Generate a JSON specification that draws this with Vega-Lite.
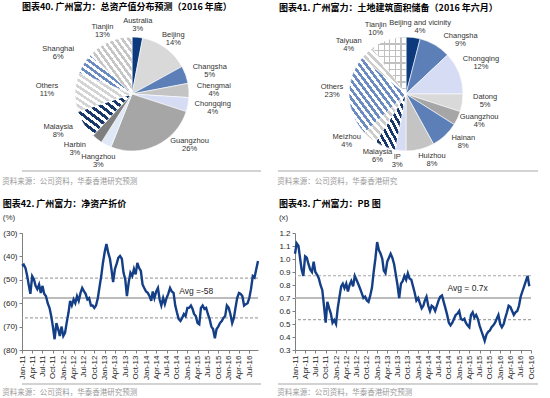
{
"$schema": "https://vega.github.io/schema/vega-lite/v6.json",
"padding": {"left": 2, "top": 3, "right": 0, "bottom": 0},
"background": "white",
"config": {
  "view": {"stroke": null},
  "font": "Liberation Sans",
  "text": {"font": "Liberation Sans", "fontSize": 7.5, "color": "#333333"},
  "axis": {"grid": false, "domainColor": "#7f7f7f", "tickColor": "#7f7f7f", "labelFont": "Liberation Sans", "labelFontSize": 8, "labelColor": "#262626", "tickSize": 3, "labelPadding": 2},
  "title": {"font": "Noto Sans CJK SC", "fontSize": 9, "fontWeight": "bold", "color": "#000000", "anchor": "start", "frame": "bounds", "offset": 5}
},
"datasets": {
  "pie1": [{"c":"Australia","p":0.03},{"c":"Beijing","p":0.14},{"c":"Changsha","p":0.05},{"c":"Chengmai","p":0.04},{"c":"Chongqing","p":0.04},{"c":"Guangzhou","p":0.26},{"c":"Hangzhou","p":0.03},{"c":"Harbin","p":0.03},{"c":"Malaysia","p":0.08},{"c":"Others","p":0.11},{"c":"Shanghai","p":0.06},{"c":"Tianjin","p":0.13}],
  "pie2": [{"c":"Beijing and vicinity","p":0.04},{"c":"Changsha","p":0.09},{"c":"Chongqing","p":0.12},{"c":"Datong","p":0.05},{"c":"Guangzhou","p":0.04},{"c":"Hainan","p":0.08},{"c":"Huizhou","p":0.08},{"c":"IP","p":0.03},{"c":"Malaysia","p":0.06},{"c":"Meizhou","p":0.04},{"c":"Others","p":0.23},{"c":"Taiyuan","p":0.04},{"c":"Tianjin","p":0.10}],
  "ts": [
{"d":"2011-01-01","disc":-44,"pb":1.04},{"d":"2011-01-16","disc":-43.5,"pb":1.12},{"d":"2011-02-01","disc":-45,"pb":1.10},{"d":"2011-02-16","disc":-48.4,"pb":1.0},{"d":"2011-03-01","disc":-52,"pb":0.92},{"d":"2011-03-16","disc":-56,"pb":0.87},{"d":"2011-04-01","disc":-48.4,"pb":1.02},{"d":"2011-04-16","disc":-49.7,"pb":1.01},{"d":"2011-05-01","disc":-52.6,"pb":0.96},{"d":"2011-05-16","disc":-54,"pb":0.92},{"d":"2011-06-01","disc":-52,"pb":0.9},{"d":"2011-06-16","disc":-55.6,"pb":0.98},{"d":"2011-07-01","disc":-52.6,"pb":0.9},{"d":"2011-07-16","disc":-56,"pb":0.88},{"d":"2011-08-01","disc":-57,"pb":0.85},{"d":"2011-08-16","disc":-60,"pb":0.8},{"d":"2011-09-01","disc":-62,"pb":0.76},{"d":"2011-09-16","disc":-65.5,"pb":0.64},{"d":"2011-10-01","disc":-70,"pb":0.51},{"d":"2011-10-16","disc":-75.4,"pb":0.67},{"d":"2011-11-01","disc":-68.5,"pb":0.62},{"d":"2011-11-16","disc":-71,"pb":0.58},{"d":"2011-12-01","disc":-74,"pb":0.51},{"d":"2011-12-16","disc":-70,"pb":0.53},
{"d":"2012-01-01","disc":-74,"pb":0.5},{"d":"2012-01-16","disc":-72.7,"pb":0.62},{"d":"2012-02-01","disc":-68,"pb":0.71},{"d":"2012-02-16","disc":-64,"pb":0.79},{"d":"2012-03-01","disc":-59,"pb":0.81},{"d":"2012-03-16","disc":-61,"pb":0.775},{"d":"2012-04-01","disc":-58.4,"pb":0.81},{"d":"2012-04-16","disc":-60,"pb":0.75},{"d":"2012-05-01","disc":-57,"pb":0.8},{"d":"2012-05-16","disc":-59,"pb":0.83},{"d":"2012-06-01","disc":-55.6,"pb":0.79},{"d":"2012-06-16","disc":-53.5,"pb":0.87},{"d":"2012-07-01","disc":-54.8,"pb":0.84},{"d":"2012-07-16","disc":-56,"pb":0.81},{"d":"2012-08-01","disc":-58.4,"pb":0.775},{"d":"2012-08-16","disc":-57.8,"pb":0.74},{"d":"2012-09-01","disc":-61,"pb":0.7},{"d":"2012-09-16","disc":-61,"pb":0.71},{"d":"2012-10-01","disc":-62,"pb":0.68},{"d":"2012-10-16","disc":-61,"pb":0.67},{"d":"2012-11-01","disc":-57.8,"pb":0.72},{"d":"2012-11-16","disc":-53,"pb":0.78},{"d":"2012-12-01","disc":-48.4,"pb":0.9},{"d":"2012-12-16","disc":-42.8,"pb":1.0},
{"d":"2013-01-01","disc":-38,"pb":1.13},{"d":"2013-01-16","disc":-34.7,"pb":1.07},{"d":"2013-02-01","disc":-38.5,"pb":1.04},{"d":"2013-02-16","disc":-41,"pb":1.0},{"d":"2013-03-01","disc":-45.4,"pb":0.91},{"d":"2013-03-16","disc":-51,"pb":0.89},{"d":"2013-04-01","disc":-45.4,"pb":0.98},{"d":"2013-04-16","disc":-43.2,"pb":1.01},{"d":"2013-05-01","disc":-40.6,"pb":1.04},{"d":"2013-05-16","disc":-39.8,"pb":1.01},{"d":"2013-06-01","disc":-41,"pb":0.96},{"d":"2013-06-16","disc":-47,"pb":0.88},{"d":"2013-07-01","disc":-49.7,"pb":0.8},{"d":"2013-07-16","disc":-57,"pb":0.7},{"d":"2013-08-01","disc":-51,"pb":0.81},{"d":"2013-08-16","disc":-47,"pb":0.83},{"d":"2013-09-01","disc":-48.4,"pb":0.87},{"d":"2013-09-16","disc":-45.4,"pb":0.84},{"d":"2013-10-01","disc":-47.7,"pb":0.89},{"d":"2013-10-16","disc":-42.8,"pb":0.85},{"d":"2013-11-01","disc":-45,"pb":0.84},{"d":"2013-11-16","disc":-46.2,"pb":0.79},{"d":"2013-12-01","disc":-52,"pb":0.74},{"d":"2013-12-16","disc":-53.5,"pb":0.68},
{"d":"2014-01-01","disc":-55,"pb":0.7},{"d":"2014-01-16","disc":-55.6,"pb":0.66},{"d":"2014-02-01","disc":-57,"pb":0.62},{"d":"2014-02-16","disc":-59,"pb":0.64},{"d":"2014-03-01","disc":-55,"pb":0.68},{"d":"2014-03-16","disc":-57.8,"pb":0.71},{"d":"2014-04-01","disc":-55,"pb":0.64},{"d":"2014-04-16","disc":-53.5,"pb":0.6},{"d":"2014-05-01","disc":-58.4,"pb":0.64},{"d":"2014-05-16","disc":-61,"pb":0.63},{"d":"2014-06-01","disc":-57.8,"pb":0.6},{"d":"2014-06-16","disc":-60.4,"pb":0.64},{"d":"2014-07-01","disc":-57.8,"pb":0.68},{"d":"2014-07-16","disc":-56,"pb":0.71},{"d":"2014-08-01","disc":-53.5,"pb":0.72},{"d":"2014-08-16","disc":-55,"pb":0.67},{"d":"2014-09-01","disc":-55.6,"pb":0.62},{"d":"2014-09-16","disc":-61,"pb":0.57},{"d":"2014-10-01","disc":-64,"pb":0.51},{"d":"2014-10-16","disc":-66.7,"pb":0.49},{"d":"2014-11-01","disc":-67.6,"pb":0.51},{"d":"2014-11-16","disc":-66.3,"pb":0.54},{"d":"2014-12-01","disc":-64.6,"pb":0.57},{"d":"2014-12-16","disc":-65.5,"pb":0.58},
{"d":"2015-01-01","disc":-62,"pb":0.6},{"d":"2015-01-16","disc":-62,"pb":0.54},{"d":"2015-02-01","disc":-61,"pb":0.53},{"d":"2015-02-16","disc":-62.5,"pb":0.54},{"d":"2015-03-01","disc":-64.6,"pb":0.51},{"d":"2015-03-16","disc":-65.5,"pb":0.49},{"d":"2015-04-01","disc":-68.5,"pb":0.475},{"d":"2015-04-16","disc":-69,"pb":0.57},{"d":"2015-05-01","disc":-62,"pb":0.59},{"d":"2015-05-16","disc":-61,"pb":0.55},{"d":"2015-06-01","disc":-62.5,"pb":0.57},{"d":"2015-06-16","disc":-62,"pb":0.54},{"d":"2015-07-01","disc":-64.6,"pb":0.49},{"d":"2015-07-16","disc":-66.7,"pb":0.45},{"d":"2015-08-01","disc":-70,"pb":0.41},{"d":"2015-08-16","disc":-71,"pb":0.37},{"d":"2015-09-01","disc":-75,"pb":0.42},{"d":"2015-09-16","disc":-71,"pb":0.44},{"d":"2015-10-01","disc":-70,"pb":0.45},{"d":"2015-10-16","disc":-68.5,"pb":0.475},{"d":"2015-11-01","disc":-67.6,"pb":0.49},{"d":"2015-11-16","disc":-66.3,"pb":0.51},{"d":"2015-12-01","disc":-65.5,"pb":0.54},{"d":"2015-12-16","disc":-61,"pb":0.57},
{"d":"2016-01-01","disc":-62,"pb":0.5},{"d":"2016-01-16","disc":-64.6,"pb":0.475},{"d":"2016-02-01","disc":-68.5,"pb":0.5},{"d":"2016-02-16","disc":-66.3,"pb":0.55},{"d":"2016-03-01","disc":-62,"pb":0.59},{"d":"2016-03-16","disc":-57.8,"pb":0.64},{"d":"2016-04-01","disc":-55.6,"pb":0.63},{"d":"2016-04-16","disc":-56,"pb":0.6},{"d":"2016-05-01","disc":-57,"pb":0.57},{"d":"2016-05-16","disc":-61,"pb":0.59},{"d":"2016-06-01","disc":-60.4,"pb":0.6},{"d":"2016-06-16","disc":-60,"pb":0.64},{"d":"2016-07-01","disc":-57.8,"pb":0.71},{"d":"2016-07-16","disc":-54,"pb":0.75},{"d":"2016-08-01","disc":-48.4,"pb":0.79},{"d":"2016-08-16","disc":-49,"pb":0.83},{"d":"2016-09-01","disc":-45.4,"pb":0.87},{"d":"2016-09-16","disc":-42,"pb":0.79}
  ]
},
"spacing": 14,
"vconcat": [
{"spacing": 0, "vconcat": [
 {"spacing": 37, "hconcat": [
  {"width": 220, "height": 152,
   "title": {"text": "图表40. 广州富力：总资产值分布预测（2016 年底）"},
   "data": {"name": "pie1"},
   "encoding": {"theta": {"field": "p", "type": "quantitative", "stack": true}, "order": {"field": "c", "type": "nominal"}},
   "layer": [
    {"mark": {"type": "arc", "outerRadius": 57, "stroke": "#ffffff", "strokeWidth": 0.6},
     "encoding": {"fill": {"field": "c", "type": "nominal", "legend": null,
       "scale": {"domain": ["Australia","Beijing","Changsha","Chengmai","Chongqing","Guangzhou","Hangzhou","Harbin","Malaysia","Others","Shanghai","Tianjin"],
                 "range": ["#0d3a7d","#d9d9d9","#5b7fb6","#c4c4c4","#d5dcf4","#a6a6a6","#dfe9f6","#7f7f7f","#18386b","#d4d4d4","#6b8cc0","#c6c6c6"]},
       "condition": [
        {"test": "datum.c === 'Tianjin'", "value": {"gradient": "linear", "x1": 0, "y1": 1, "x2": 1, "y2": 0, "stops": [
{"offset":0,"color":"#c6c6c6"},{"offset":0.0385,"color":"#c6c6c6"},{"offset":0.0385,"color":"#fff"},{"offset":0.0769,"color":"#fff"},
{"offset":0.0769,"color":"#c6c6c6"},{"offset":0.1154,"color":"#c6c6c6"},{"offset":0.1154,"color":"#fff"},{"offset":0.1538,"color":"#fff"},
{"offset":0.1538,"color":"#c6c6c6"},{"offset":0.1923,"color":"#c6c6c6"},{"offset":0.1923,"color":"#fff"},{"offset":0.2308,"color":"#fff"},
{"offset":0.2308,"color":"#c6c6c6"},{"offset":0.2692,"color":"#c6c6c6"},{"offset":0.2692,"color":"#fff"},{"offset":0.3077,"color":"#fff"},
{"offset":0.3077,"color":"#c6c6c6"},{"offset":0.3462,"color":"#c6c6c6"},{"offset":0.3462,"color":"#fff"},{"offset":0.3846,"color":"#fff"},
{"offset":0.3846,"color":"#c6c6c6"},{"offset":0.4231,"color":"#c6c6c6"},{"offset":0.4231,"color":"#fff"},{"offset":0.4615,"color":"#fff"},
{"offset":0.4615,"color":"#c6c6c6"},{"offset":0.5,"color":"#c6c6c6"},{"offset":0.5,"color":"#fff"},{"offset":0.5385,"color":"#fff"},
{"offset":0.5385,"color":"#c6c6c6"},{"offset":0.5769,"color":"#c6c6c6"},{"offset":0.5769,"color":"#fff"},{"offset":0.6154,"color":"#fff"},
{"offset":0.6154,"color":"#c6c6c6"},{"offset":0.6538,"color":"#c6c6c6"},{"offset":0.6538,"color":"#fff"},{"offset":0.6923,"color":"#fff"},
{"offset":0.6923,"color":"#c6c6c6"},{"offset":0.7308,"color":"#c6c6c6"},{"offset":0.7308,"color":"#fff"},{"offset":0.7692,"color":"#fff"},
{"offset":0.7692,"color":"#c6c6c6"},{"offset":0.8077,"color":"#c6c6c6"},{"offset":0.8077,"color":"#fff"},{"offset":0.8462,"color":"#fff"},
{"offset":0.8462,"color":"#c6c6c6"},{"offset":0.8846,"color":"#c6c6c6"},{"offset":0.8846,"color":"#fff"},{"offset":0.9231,"color":"#fff"},
{"offset":0.9231,"color":"#c6c6c6"},{"offset":0.9615,"color":"#c6c6c6"},{"offset":0.9615,"color":"#fff"},{"offset":1,"color":"#fff"}]}},
        {"test": "datum.c === 'Shanghai'", "value": {"gradient": "linear", "x1": 0, "y1": 1, "x2": 1, "y2": 0, "stops": [
{"offset":0,"color":"#6b8cc0"},{"offset":0.0417,"color":"#6b8cc0"},{"offset":0.0417,"color":"#fff"},{"offset":0.0833,"color":"#fff"},
{"offset":0.0833,"color":"#6b8cc0"},{"offset":0.125,"color":"#6b8cc0"},{"offset":0.125,"color":"#fff"},{"offset":0.1667,"color":"#fff"},
{"offset":0.1667,"color":"#6b8cc0"},{"offset":0.2083,"color":"#6b8cc0"},{"offset":0.2083,"color":"#fff"},{"offset":0.25,"color":"#fff"},
{"offset":0.25,"color":"#6b8cc0"},{"offset":0.2917,"color":"#6b8cc0"},{"offset":0.2917,"color":"#fff"},{"offset":0.3333,"color":"#fff"},
{"offset":0.3333,"color":"#6b8cc0"},{"offset":0.375,"color":"#6b8cc0"},{"offset":0.375,"color":"#fff"},{"offset":0.4167,"color":"#fff"},
{"offset":0.4167,"color":"#6b8cc0"},{"offset":0.4583,"color":"#6b8cc0"},{"offset":0.4583,"color":"#fff"},{"offset":0.5,"color":"#fff"},
{"offset":0.5,"color":"#6b8cc0"},{"offset":0.5417,"color":"#6b8cc0"},{"offset":0.5417,"color":"#fff"},{"offset":0.5833,"color":"#fff"},
{"offset":0.5833,"color":"#6b8cc0"},{"offset":0.625,"color":"#6b8cc0"},{"offset":0.625,"color":"#fff"},{"offset":0.6667,"color":"#fff"},
{"offset":0.6667,"color":"#6b8cc0"},{"offset":0.7083,"color":"#6b8cc0"},{"offset":0.7083,"color":"#fff"},{"offset":0.75,"color":"#fff"},
{"offset":0.75,"color":"#6b8cc0"},{"offset":0.7917,"color":"#6b8cc0"},{"offset":0.7917,"color":"#fff"},{"offset":0.8333,"color":"#fff"},
{"offset":0.8333,"color":"#6b8cc0"},{"offset":0.875,"color":"#6b8cc0"},{"offset":0.875,"color":"#fff"},{"offset":0.9167,"color":"#fff"},
{"offset":0.9167,"color":"#6b8cc0"},{"offset":0.9583,"color":"#6b8cc0"},{"offset":0.9583,"color":"#fff"},{"offset":1,"color":"#fff"}]}},
        {"test": "datum.c === 'Others'", "value": {"gradient": "linear", "x1": 0, "y1": 1, "x2": 1, "y2": 0, "stops": [
{"offset":0,"color":"#d4d4d4"},{"offset":0.0417,"color":"#d4d4d4"},{"offset":0.0417,"color":"#fff"},{"offset":0.0833,"color":"#fff"},
{"offset":0.0833,"color":"#d4d4d4"},{"offset":0.125,"color":"#d4d4d4"},{"offset":0.125,"color":"#fff"},{"offset":0.1667,"color":"#fff"},
{"offset":0.1667,"color":"#d4d4d4"},{"offset":0.2083,"color":"#d4d4d4"},{"offset":0.2083,"color":"#fff"},{"offset":0.25,"color":"#fff"},
{"offset":0.25,"color":"#d4d4d4"},{"offset":0.2917,"color":"#d4d4d4"},{"offset":0.2917,"color":"#fff"},{"offset":0.3333,"color":"#fff"},
{"offset":0.3333,"color":"#d4d4d4"},{"offset":0.375,"color":"#d4d4d4"},{"offset":0.375,"color":"#fff"},{"offset":0.4167,"color":"#fff"},
{"offset":0.4167,"color":"#d4d4d4"},{"offset":0.4583,"color":"#d4d4d4"},{"offset":0.4583,"color":"#fff"},{"offset":0.5,"color":"#fff"},
{"offset":0.5,"color":"#d4d4d4"},{"offset":0.5417,"color":"#d4d4d4"},{"offset":0.5417,"color":"#fff"},{"offset":0.5833,"color":"#fff"},
{"offset":0.5833,"color":"#d4d4d4"},{"offset":0.625,"color":"#d4d4d4"},{"offset":0.625,"color":"#fff"},{"offset":0.6667,"color":"#fff"},
{"offset":0.6667,"color":"#d4d4d4"},{"offset":0.7083,"color":"#d4d4d4"},{"offset":0.7083,"color":"#fff"},{"offset":0.75,"color":"#fff"},
{"offset":0.75,"color":"#d4d4d4"},{"offset":0.7917,"color":"#d4d4d4"},{"offset":0.7917,"color":"#fff"},{"offset":0.8333,"color":"#fff"},
{"offset":0.8333,"color":"#d4d4d4"},{"offset":0.875,"color":"#d4d4d4"},{"offset":0.875,"color":"#fff"},{"offset":0.9167,"color":"#fff"},
{"offset":0.9167,"color":"#d4d4d4"},{"offset":0.9583,"color":"#d4d4d4"},{"offset":0.9583,"color":"#fff"},{"offset":1,"color":"#fff"}]}},
        {"test": "datum.c === 'Malaysia'", "value": {"gradient": "linear", "x1": 0, "y1": 1, "x2": 1, "y2": 0, "stops": [
{"offset":0,"color":"#18386b"},{"offset":0.0455,"color":"#18386b"},{"offset":0.0455,"color":"#fff"},{"offset":0.0909,"color":"#fff"},
{"offset":0.0909,"color":"#18386b"},{"offset":0.1364,"color":"#18386b"},{"offset":0.1364,"color":"#fff"},{"offset":0.1818,"color":"#fff"},
{"offset":0.1818,"color":"#18386b"},{"offset":0.2273,"color":"#18386b"},{"offset":0.2273,"color":"#fff"},{"offset":0.2727,"color":"#fff"},
{"offset":0.2727,"color":"#18386b"},{"offset":0.3182,"color":"#18386b"},{"offset":0.3182,"color":"#fff"},{"offset":0.3636,"color":"#fff"},
{"offset":0.3636,"color":"#18386b"},{"offset":0.4091,"color":"#18386b"},{"offset":0.4091,"color":"#fff"},{"offset":0.4545,"color":"#fff"},
{"offset":0.4545,"color":"#18386b"},{"offset":0.5,"color":"#18386b"},{"offset":0.5,"color":"#fff"},{"offset":0.5455,"color":"#fff"},
{"offset":0.5455,"color":"#18386b"},{"offset":0.5909,"color":"#18386b"},{"offset":0.5909,"color":"#fff"},{"offset":0.6364,"color":"#fff"},
{"offset":0.6364,"color":"#18386b"},{"offset":0.6818,"color":"#18386b"},{"offset":0.6818,"color":"#fff"},{"offset":0.7273,"color":"#fff"},
{"offset":0.7273,"color":"#18386b"},{"offset":0.7727,"color":"#18386b"},{"offset":0.7727,"color":"#fff"},{"offset":0.8182,"color":"#fff"},
{"offset":0.8182,"color":"#18386b"},{"offset":0.8636,"color":"#18386b"},{"offset":0.8636,"color":"#fff"},{"offset":0.9091,"color":"#fff"},
{"offset":0.9091,"color":"#18386b"},{"offset":0.9545,"color":"#18386b"},{"offset":0.9545,"color":"#fff"},{"offset":1,"color":"#fff"}]}}
       ]}}},
    {"mark": {"type": "text", "radius": 72, "baseline": "bottom", "dx": -1, "dy": 3},
     "encoding": {"text": {"condition": {"test": "indexof(['Australia','Beijing','Hangzhou','Tianjin'], datum.c) >= 0", "field": "c", "type": "nominal"}, "value": ""}, "size": {"condition": {"test": "indexof(['Australia','Beijing','Hangzhou','Tianjin'], datum.c) >= 0", "value": 7.5}, "value": 0}}},
    {"mark": {"type": "text", "radius": 72, "baseline": "top", "dx": -1, "dy": 3},
     "encoding": {"text": {"condition": {"test": "indexof(['Australia','Beijing','Hangzhou','Tianjin'], datum.c) >= 0", "field": "p", "type": "quantitative", "format": ".0%"}, "value": ""}, "size": {"condition": {"test": "indexof(['Australia','Beijing','Hangzhou','Tianjin'], datum.c) >= 0", "value": 7.5}, "value": 0}}},
    {"mark": {"type": "text", "radius": 72, "baseline": "bottom", "dx": 10, "dy": 1},
     "encoding": {"text": {"condition": {"test": "indexof(['Changsha','Chengmai','Chongqing'], datum.c) >= 0", "field": "c", "type": "nominal"}, "value": ""}, "size": {"condition": {"test": "indexof(['Changsha','Chengmai','Chongqing'], datum.c) >= 0", "value": 7.5}, "value": 0}}},
    {"mark": {"type": "text", "radius": 72, "baseline": "top", "dx": 10, "dy": 1},
     "encoding": {"text": {"condition": {"test": "indexof(['Changsha','Chengmai','Chongqing'], datum.c) >= 0", "field": "p", "type": "quantitative", "format": ".0%"}, "value": ""}, "size": {"condition": {"test": "indexof(['Changsha','Chengmai','Chongqing'], datum.c) >= 0", "value": 7.5}, "value": 0}}},
    {"mark": {"type": "text", "radius": 72, "baseline": "bottom", "dx": -13, "dy": -2},
     "encoding": {"text": {"condition": {"test": "indexof(['Harbin','Malaysia','Others','Shanghai'], datum.c) >= 0", "field": "c", "type": "nominal"}, "value": ""}, "size": {"condition": {"test": "indexof(['Harbin','Malaysia','Others','Shanghai'], datum.c) >= 0", "value": 7.5}, "value": 0}}},
    {"mark": {"type": "text", "radius": 72, "baseline": "top", "dx": -13, "dy": -2},
     "encoding": {"text": {"condition": {"test": "indexof(['Harbin','Malaysia','Others','Shanghai'], datum.c) >= 0", "field": "p", "type": "quantitative", "format": ".0%"}, "value": ""}, "size": {"condition": {"test": "indexof(['Harbin','Malaysia','Others','Shanghai'], datum.c) >= 0", "value": 7.5}, "value": 0}}},
    {"mark": {"type": "text", "radius": 60, "baseline": "bottom", "dx": 32, "dy": -3},
     "encoding": {"text": {"condition": {"test": "datum.c === 'Guangzhou'", "field": "c", "type": "nominal"}, "value": ""}, "size": {"condition": {"test": "datum.c === 'Guangzhou'", "value": 7.5}, "value": 0}}},
    {"mark": {"type": "text", "radius": 60, "baseline": "top", "dx": 32, "dy": -3},
     "encoding": {"text": {"condition": {"test": "datum.c === 'Guangzhou'", "field": "p", "type": "quantitative", "format": ".0%"}, "value": ""}, "size": {"condition": {"test": "datum.c === 'Guangzhou'", "value": 7.5}, "value": 0}}}
   ]},
  {"width": 254, "height": 152,
   "title": {"text": "图表41. 广州富力：土地建筑面积储备（2016 年六月）"},
   "data": {"name": "pie2"},
   "encoding": {"theta": {"field": "p", "type": "quantitative", "stack": true}, "order": {"field": "c", "type": "nominal"}},
   "layer": [
    {"mark": {"type": "arc", "outerRadius": 57, "stroke": "#ffffff", "strokeWidth": 0.6},
     "encoding": {"fill": {"field": "c", "type": "nominal", "legend": null,
       "scale": {"domain": ["Beijing and vicinity","Changsha","Chongqing","Datong","Guangzhou","Hainan","Huizhou","IP","Malaysia","Meizhou","Others","Taiyuan","Tianjin"],
                 "range": ["#0d3a7d","#d9d9d9","#5b7fb6","#c4c4c4","#d5dcf4","#a6a6a6","#dfe9f6","#7f7f7f","#18386b","#cccccc","#6b8cc0","#cccccc","#ffffff"]},
       "condition": [
        {"test": "datum.c === 'Tianjin'", "value": {"gradient": "linear", "x1": 0, "y1": 0, "x2": 0, "y2": 1, "stops": [
{"offset":0,"color":"#c0c0c0"},{"offset":0.0222,"color":"#c0c0c0"},{"offset":0.0222,"color":"#fff"},{"offset":0.1111,"color":"#fff"},
{"offset":0.1111,"color":"#c0c0c0"},{"offset":0.1333,"color":"#c0c0c0"},{"offset":0.1333,"color":"#fff"},{"offset":0.2222,"color":"#fff"},
{"offset":0.2222,"color":"#c0c0c0"},{"offset":0.2444,"color":"#c0c0c0"},{"offset":0.2444,"color":"#fff"},{"offset":0.3333,"color":"#fff"},
{"offset":0.3333,"color":"#c0c0c0"},{"offset":0.3556,"color":"#c0c0c0"},{"offset":0.3556,"color":"#fff"},{"offset":0.4444,"color":"#fff"},
{"offset":0.4444,"color":"#c0c0c0"},{"offset":0.4667,"color":"#c0c0c0"},{"offset":0.4667,"color":"#fff"},{"offset":0.5556,"color":"#fff"},
{"offset":0.5556,"color":"#c0c0c0"},{"offset":0.5778,"color":"#c0c0c0"},{"offset":0.5778,"color":"#fff"},{"offset":0.6667,"color":"#fff"},
{"offset":0.6667,"color":"#c0c0c0"},{"offset":0.6889,"color":"#c0c0c0"},{"offset":0.6889,"color":"#fff"},{"offset":0.7778,"color":"#fff"},
{"offset":0.7778,"color":"#c0c0c0"},{"offset":0.8,"color":"#c0c0c0"},{"offset":0.8,"color":"#fff"},{"offset":0.8889,"color":"#fff"},
{"offset":0.8889,"color":"#c0c0c0"},{"offset":0.9111,"color":"#c0c0c0"},{"offset":0.9111,"color":"#fff"},{"offset":1,"color":"#fff"}]}},
        {"test": "datum.c === 'Taiyuan' || datum.c === 'Meizhou'", "value": {"gradient": "linear", "x1": 0, "y1": 1, "x2": 1, "y2": 0, "stops": [
{"offset":0,"color":"#cccccc"},{"offset":0.0417,"color":"#cccccc"},{"offset":0.0417,"color":"#fff"},{"offset":0.0833,"color":"#fff"},
{"offset":0.0833,"color":"#cccccc"},{"offset":0.125,"color":"#cccccc"},{"offset":0.125,"color":"#fff"},{"offset":0.1667,"color":"#fff"},
{"offset":0.1667,"color":"#cccccc"},{"offset":0.2083,"color":"#cccccc"},{"offset":0.2083,"color":"#fff"},{"offset":0.25,"color":"#fff"},
{"offset":0.25,"color":"#cccccc"},{"offset":0.2917,"color":"#cccccc"},{"offset":0.2917,"color":"#fff"},{"offset":0.3333,"color":"#fff"},
{"offset":0.3333,"color":"#cccccc"},{"offset":0.375,"color":"#cccccc"},{"offset":0.375,"color":"#fff"},{"offset":0.4167,"color":"#fff"},
{"offset":0.4167,"color":"#cccccc"},{"offset":0.4583,"color":"#cccccc"},{"offset":0.4583,"color":"#fff"},{"offset":0.5,"color":"#fff"},
{"offset":0.5,"color":"#cccccc"},{"offset":0.5417,"color":"#cccccc"},{"offset":0.5417,"color":"#fff"},{"offset":0.5833,"color":"#fff"},
{"offset":0.5833,"color":"#cccccc"},{"offset":0.625,"color":"#cccccc"},{"offset":0.625,"color":"#fff"},{"offset":0.6667,"color":"#fff"},
{"offset":0.6667,"color":"#cccccc"},{"offset":0.7083,"color":"#cccccc"},{"offset":0.7083,"color":"#fff"},{"offset":0.75,"color":"#fff"},
{"offset":0.75,"color":"#cccccc"},{"offset":0.7917,"color":"#cccccc"},{"offset":0.7917,"color":"#fff"},{"offset":0.8333,"color":"#fff"},
{"offset":0.8333,"color":"#cccccc"},{"offset":0.875,"color":"#cccccc"},{"offset":0.875,"color":"#fff"},{"offset":0.9167,"color":"#fff"},
{"offset":0.9167,"color":"#cccccc"},{"offset":0.9583,"color":"#cccccc"},{"offset":0.9583,"color":"#fff"},{"offset":1,"color":"#fff"}]}},
        {"test": "datum.c === 'Others'", "value": {"gradient": "linear", "x1": 0, "y1": 1, "x2": 1, "y2": 0, "stops": [
{"offset":0,"color":"#6b8cc0"},{"offset":0.0294,"color":"#6b8cc0"},{"offset":0.0294,"color":"#fff"},{"offset":0.0588,"color":"#fff"},
{"offset":0.0588,"color":"#6b8cc0"},{"offset":0.0882,"color":"#6b8cc0"},{"offset":0.0882,"color":"#fff"},{"offset":0.1176,"color":"#fff"},
{"offset":0.1176,"color":"#6b8cc0"},{"offset":0.1471,"color":"#6b8cc0"},{"offset":0.1471,"color":"#fff"},{"offset":0.1765,"color":"#fff"},
{"offset":0.1765,"color":"#6b8cc0"},{"offset":0.2059,"color":"#6b8cc0"},{"offset":0.2059,"color":"#fff"},{"offset":0.2353,"color":"#fff"},
{"offset":0.2353,"color":"#6b8cc0"},{"offset":0.2647,"color":"#6b8cc0"},{"offset":0.2647,"color":"#fff"},{"offset":0.2941,"color":"#fff"},
{"offset":0.2941,"color":"#6b8cc0"},{"offset":0.3235,"color":"#6b8cc0"},{"offset":0.3235,"color":"#fff"},{"offset":0.3529,"color":"#fff"},
{"offset":0.3529,"color":"#6b8cc0"},{"offset":0.3824,"color":"#6b8cc0"},{"offset":0.3824,"color":"#fff"},{"offset":0.4118,"color":"#fff"},
{"offset":0.4118,"color":"#6b8cc0"},{"offset":0.4412,"color":"#6b8cc0"},{"offset":0.4412,"color":"#fff"},{"offset":0.4706,"color":"#fff"},
{"offset":0.4706,"color":"#6b8cc0"},{"offset":0.5,"color":"#6b8cc0"},{"offset":0.5,"color":"#fff"},{"offset":0.5294,"color":"#fff"},
{"offset":0.5294,"color":"#6b8cc0"},{"offset":0.5588,"color":"#6b8cc0"},{"offset":0.5588,"color":"#fff"},{"offset":0.5882,"color":"#fff"},
{"offset":0.5882,"color":"#6b8cc0"},{"offset":0.6176,"color":"#6b8cc0"},{"offset":0.6176,"color":"#fff"},{"offset":0.6471,"color":"#fff"},
{"offset":0.6471,"color":"#6b8cc0"},{"offset":0.6765,"color":"#6b8cc0"},{"offset":0.6765,"color":"#fff"},{"offset":0.7059,"color":"#fff"},
{"offset":0.7059,"color":"#6b8cc0"},{"offset":0.7353,"color":"#6b8cc0"},{"offset":0.7353,"color":"#fff"},{"offset":0.7647,"color":"#fff"},
{"offset":0.7647,"color":"#6b8cc0"},{"offset":0.7941,"color":"#6b8cc0"},{"offset":0.7941,"color":"#fff"},{"offset":0.8235,"color":"#fff"},
{"offset":0.8235,"color":"#6b8cc0"},{"offset":0.8529,"color":"#6b8cc0"},{"offset":0.8529,"color":"#fff"},{"offset":0.8824,"color":"#fff"},
{"offset":0.8824,"color":"#6b8cc0"},{"offset":0.9118,"color":"#6b8cc0"},{"offset":0.9118,"color":"#fff"},{"offset":0.9412,"color":"#fff"},
{"offset":0.9412,"color":"#6b8cc0"},{"offset":0.9706,"color":"#6b8cc0"},{"offset":0.9706,"color":"#fff"},{"offset":1,"color":"#fff"}]}},
        {"test": "datum.c === 'Malaysia'", "value": {"gradient": "linear", "x1": 0, "y1": 1, "x2": 1, "y2": 0, "stops": [
{"offset":0,"color":"#18386b"},{"offset":0.05,"color":"#18386b"},{"offset":0.05,"color":"#fff"},{"offset":0.1,"color":"#fff"},
{"offset":0.1,"color":"#18386b"},{"offset":0.15,"color":"#18386b"},{"offset":0.15,"color":"#fff"},{"offset":0.2,"color":"#fff"},
{"offset":0.2,"color":"#18386b"},{"offset":0.25,"color":"#18386b"},{"offset":0.25,"color":"#fff"},{"offset":0.3,"color":"#fff"},
{"offset":0.3,"color":"#18386b"},{"offset":0.35,"color":"#18386b"},{"offset":0.35,"color":"#fff"},{"offset":0.4,"color":"#fff"},
{"offset":0.4,"color":"#18386b"},{"offset":0.45,"color":"#18386b"},{"offset":0.45,"color":"#fff"},{"offset":0.5,"color":"#fff"},
{"offset":0.5,"color":"#18386b"},{"offset":0.55,"color":"#18386b"},{"offset":0.55,"color":"#fff"},{"offset":0.6,"color":"#fff"},
{"offset":0.6,"color":"#18386b"},{"offset":0.65,"color":"#18386b"},{"offset":0.65,"color":"#fff"},{"offset":0.7,"color":"#fff"},
{"offset":0.7,"color":"#18386b"},{"offset":0.75,"color":"#18386b"},{"offset":0.75,"color":"#fff"},{"offset":0.8,"color":"#fff"},
{"offset":0.8,"color":"#18386b"},{"offset":0.85,"color":"#18386b"},{"offset":0.85,"color":"#fff"},{"offset":0.9,"color":"#fff"},
{"offset":0.9,"color":"#18386b"},{"offset":0.95,"color":"#18386b"},{"offset":0.95,"color":"#fff"},{"offset":1,"color":"#fff"}]}}
       ]}}},
    {"mark": {"type": "arc", "outerRadius": 57},
     "encoding": {"fill": {"condition": {"test": "datum.c === 'Tianjin'", "value": {"gradient": "linear", "x1": 0, "y1": 0, "x2": 1, "y2": 0, "stops": [
{"offset":0,"color":"#c0c0c0"},{"offset":0.0333,"color":"#c0c0c0"},{"offset":0.0333,"color":"rgba(192,192,192,0)"},{"offset":0.1667,"color":"rgba(192,192,192,0)"},
{"offset":0.1667,"color":"#c0c0c0"},{"offset":0.2,"color":"#c0c0c0"},{"offset":0.2,"color":"rgba(192,192,192,0)"},{"offset":0.3333,"color":"rgba(192,192,192,0)"},
{"offset":0.3333,"color":"#c0c0c0"},{"offset":0.3667,"color":"#c0c0c0"},{"offset":0.3667,"color":"rgba(192,192,192,0)"},{"offset":0.5,"color":"rgba(192,192,192,0)"},
{"offset":0.5,"color":"#c0c0c0"},{"offset":0.5333,"color":"#c0c0c0"},{"offset":0.5333,"color":"rgba(192,192,192,0)"},{"offset":0.6667,"color":"rgba(192,192,192,0)"},
{"offset":0.6667,"color":"#c0c0c0"},{"offset":0.7,"color":"#c0c0c0"},{"offset":0.7,"color":"rgba(192,192,192,0)"},{"offset":0.8333,"color":"rgba(192,192,192,0)"},
{"offset":0.8333,"color":"#c0c0c0"},{"offset":0.8667,"color":"#c0c0c0"},{"offset":0.8667,"color":"rgba(192,192,192,0)"},{"offset":1,"color":"rgba(192,192,192,0)"}]}}, "value": null}}},
    {"mark": {"type": "text", "radius": 72, "baseline": "bottom", "dx": 8, "dy": -4},
     "encoding": {"text": {"condition": {"test": "indexof(['Chongqing','Datong','Guangzhou','Hainan','Huizhou'], datum.c) >= 0", "field": "c", "type": "nominal"}, "value": ""}, "size": {"condition": {"test": "indexof(['Chongqing','Datong','Guangzhou','Hainan','Huizhou'], datum.c) >= 0", "value": 7.5}, "value": 0}}},
    {"mark": {"type": "text", "radius": 72, "baseline": "top", "dx": 8, "dy": -4},
     "encoding": {"text": {"condition": {"test": "indexof(['Chongqing','Datong','Guangzhou','Hainan','Huizhou'], datum.c) >= 0", "field": "p", "type": "quantitative", "format": ".0%"}, "value": ""}, "size": {"condition": {"test": "indexof(['Chongqing','Datong','Guangzhou','Hainan','Huizhou'], datum.c) >= 0", "value": 7.5}, "value": 0}}},
    {"mark": {"type": "text", "radius": 72, "baseline": "bottom", "dx": -2, "dy": -5},
     "encoding": {"text": {"condition": {"test": "indexof(['IP','Malaysia','Others'], datum.c) >= 0", "field": "c", "type": "nominal"}, "value": ""}, "size": {"condition": {"test": "indexof(['IP','Malaysia','Others'], datum.c) >= 0", "value": 7.5}, "value": 0}}},
    {"mark": {"type": "text", "radius": 72, "baseline": "top", "dx": -2, "dy": -5},
     "encoding": {"text": {"condition": {"test": "indexof(['IP','Malaysia','Others'], datum.c) >= 0", "field": "p", "type": "quantitative", "format": ".0%"}, "value": ""}, "size": {"condition": {"test": "indexof(['IP','Malaysia','Others'], datum.c) >= 0", "value": 7.5}, "value": 0}}},
    {"mark": {"type": "text", "radius": 72, "baseline": "bottom", "dx": -8, "dy": 3.5},
     "encoding": {"text": {"condition": {"test": "indexof(['Taiyuan','Tianjin'], datum.c) >= 0", "field": "c", "type": "nominal"}, "value": ""}, "size": {"condition": {"test": "indexof(['Taiyuan','Tianjin'], datum.c) >= 0", "value": 7.5}, "value": 0}}},
    {"mark": {"type": "text", "radius": 72, "baseline": "top", "dx": -8, "dy": 3.5},
     "encoding": {"text": {"condition": {"test": "indexof(['Taiyuan','Tianjin'], datum.c) >= 0", "field": "p", "type": "quantitative", "format": ".0%"}, "value": ""}, "size": {"condition": {"test": "indexof(['Taiyuan','Tianjin'], datum.c) >= 0", "value": 7.5}, "value": 0}}},
    {"mark": {"type": "text", "radius": 60, "baseline": "bottom", "dx": 24, "dy": -2},
     "encoding": {"text": {"condition": {"test": "datum.c === 'Changsha'", "field": "c", "type": "nominal"}, "value": ""}, "size": {"condition": {"test": "datum.c === 'Changsha'", "value": 7.5}, "value": 0}}},
    {"mark": {"type": "text", "radius": 60, "baseline": "top", "dx": 24, "dy": -2},
     "encoding": {"text": {"condition": {"test": "datum.c === 'Changsha'", "field": "p", "type": "quantitative", "format": ".0%"}, "value": ""}, "size": {"condition": {"test": "datum.c === 'Changsha'", "value": 7.5}, "value": 0}}},
    {"mark": {"type": "text", "radius": 72, "baseline": "bottom", "dx": 5, "dy": 4},
     "encoding": {"text": {"condition": {"test": "datum.c === 'Beijing and vicinity'", "field": "c", "type": "nominal"}, "value": ""}, "size": {"condition": {"test": "datum.c === 'Beijing and vicinity'", "value": 7.5}, "value": 0}}},
    {"mark": {"type": "text", "radius": 72, "baseline": "top", "dx": 5, "dy": 4},
     "encoding": {"text": {"condition": {"test": "datum.c === 'Beijing and vicinity'", "field": "p", "type": "quantitative", "format": ".0%"}, "value": ""}, "size": {"condition": {"test": "datum.c === 'Beijing and vicinity'", "value": 7.5}, "value": 0}}},
    {"mark": {"type": "text", "radius": 60, "baseline": "bottom", "dx": -21, "dy": 1},
     "encoding": {"text": {"condition": {"test": "datum.c === 'Meizhou'", "field": "c", "type": "nominal"}, "value": ""}, "size": {"condition": {"test": "datum.c === 'Meizhou'", "value": 7.5}, "value": 0}}},
    {"mark": {"type": "text", "radius": 60, "baseline": "top", "dx": -21, "dy": 1},
     "encoding": {"text": {"condition": {"test": "datum.c === 'Meizhou'", "field": "p", "type": "quantitative", "format": ".0%"}, "value": ""}, "size": {"condition": {"test": "datum.c === 'Meizhou'", "value": 7.5}, "value": 0}}}
   ]}
 ]},
 {"spacing": 15, "hconcat": [
  {"width": 239, "height": 1, "data": {"values": [{}]},
   "mark": {"type": "rule", "color": "#c4c4c4", "strokeWidth": 1.5},
   "encoding": {"y": {"datum": 0, "type": "quantitative", "scale": {"domain": [0, 1]}, "axis": null}},
   "title": {"text": "资料来源：公司资料，华泰香港研究预测", "orient": "bottom", "fontSize": 7.5, "fontWeight": "normal", "color": "#9a9a9a", "offset": 6, "dx": -19}},
  {"width": 260, "height": 1, "data": {"values": [{}]},
   "mark": {"type": "rule", "color": "#c4c4c4", "strokeWidth": 1.5},
   "encoding": {"y": {"datum": 0, "type": "quantitative", "scale": {"domain": [0, 1]}, "axis": null}},
   "title": {"text": "资料来源：公司资料，华泰香港研究", "orient": "bottom", "fontSize": 7.5, "fontWeight": "normal", "color": "#9a9a9a", "offset": 6}}
 ]}
]},
{"spacing": 3, "vconcat": [
 {"spacing": 15, "hconcat": [
  {"width": 236, "height": 117,
   "title": {"text": "图表42. 广州富力：净资产折价", "subtitle": "(%)", "subtitleFont": "Liberation Sans", "subtitleFontSize": 8, "subtitleColor": "#333333", "subtitleFontWeight": "normal", "subtitlePadding": 5, "offset": 7},
   "encoding": {"y": {"field": "v", "type": "quantitative", "title": null, "scale": {"domain": [-80, -30], "nice": false, "zero": false},
            "axis": {"values": [-80, -70, -60, -50, -40, -30], "labelExpr": "'(' + abs(datum.value) + ')'", "labelOverlap": false}}},
   "layer": [
    {"data": {"values": [{"v": -49.3}, {"v": -66.3}]}, "mark": {"type": "rule", "color": "#a6a6a6", "strokeWidth": 1.2, "strokeDash": [3, 2]}, "encoding": {}},
    {"data": {"values": [{"v": -57.8}]}, "mark": {"type": "rule", "color": "#a6a6a6", "strokeWidth": 1.6}, "encoding": {}},
    {"data": {"name": "ts"}, "transform": [{"fold": ["disc"], "as": ["k", "v"]}], "mark": {"type": "line", "color": "#143f86", "strokeWidth": 2.4},
     "encoding": {
      "x": {"field": "d", "type": "temporal", "title": null, "scale": {"domain": [{"year": 2011, "month": 1, "date": 1}, {"year": 2016, "month": 9, "date": 16}], "nice": false},
            "axis": {"tickCount": {"interval": "month", "step": 3}, "format": "%b-%y", "labelAngle": 270, "labelOverlap": false, "labelFlush": false, "labelBound": false}}}},
    {"data": {"values": [{"d": "2015-03-20", "v": -57.8, "t": "Avg =-58"}]}, "mark": {"type": "text", "baseline": "bottom", "dy": -2, "fontSize": 8.5, "color": "#262626"},
     "encoding": {"x": {"field": "d", "type": "temporal", "title": null}, "text": {"field": "t"}}}
   ]},
  {"width": 236, "height": 117,
   "title": {"text": "图表43. 广州富力：PB 图", "subtitle": "(x)", "subtitleFont": "Liberation Sans", "subtitleFontSize": 8, "subtitleColor": "#333333", "subtitleFontWeight": "normal", "subtitlePadding": 5, "offset": 7},
   "encoding": {"y": {"field": "v", "type": "quantitative", "title": null, "scale": {"domain": [0.3, 1.2], "nice": false, "zero": false},
            "axis": {"values": [0.3, 0.4, 0.5, 0.6, 0.7, 0.8, 0.9, 1.0, 1.1, 1.2], "format": ".1f", "labelOverlap": false}}},
   "layer": [
    {"data": {"values": [{"v": 0.871}, {"v": 0.533}]}, "mark": {"type": "rule", "color": "#a6a6a6", "strokeWidth": 1.2, "strokeDash": [3, 2]}, "encoding": {}},
    {"data": {"values": [{"v": 0.7}]}, "mark": {"type": "rule", "color": "#a6a6a6", "strokeWidth": 1.6}, "encoding": {}},
    {"data": {"name": "ts"}, "transform": [{"fold": ["pb"], "as": ["k", "v"]}], "mark": {"type": "line", "color": "#143f86", "strokeWidth": 2.4},
     "encoding": {
      "x": {"field": "d", "type": "temporal", "title": null, "scale": {"domain": [{"year": 2011, "month": 1, "date": 1}, {"year": 2016, "month": 10, "date": 1}], "nice": false},
            "axis": {"tickCount": {"interval": "month", "step": 3}, "format": "%b-%y", "labelAngle": 270, "labelOverlap": false, "labelFlush": false, "labelBound": false}}}},
    {"data": {"values": [{"d": "2015-03-17", "v": 0.7, "t": "Avg = 0.7x"}]}, "mark": {"type": "text", "baseline": "bottom", "dy": -5, "fontSize": 8.5, "color": "#262626"},
     "encoding": {"x": {"field": "d", "type": "temporal", "title": null}, "text": {"field": "t"}}}
   ]}
 ]},
 {"spacing": 15, "hconcat": [
  {"width": 239, "height": 1, "data": {"values": [{}]},
   "mark": {"type": "rule", "color": "#c4c4c4", "strokeWidth": 1.5},
   "encoding": {"y": {"datum": 0, "type": "quantitative", "scale": {"domain": [0, 1]}, "axis": null}},
   "title": {"text": "资料来源：公司资料，华泰香港研究预测", "orient": "bottom", "fontSize": 7.5, "fontWeight": "normal", "color": "#9a9a9a", "offset": 4, "dx": -19}},
  {"width": 260, "height": 1, "data": {"values": [{}]},
   "mark": {"type": "rule", "color": "#c4c4c4", "strokeWidth": 1.5},
   "encoding": {"y": {"datum": 0, "type": "quantitative", "scale": {"domain": [0, 1]}, "axis": null}},
   "title": {"text": "资料来源：公司资料，华泰香港研究预测", "orient": "bottom", "fontSize": 7.5, "fontWeight": "normal", "color": "#9a9a9a", "offset": 4}}
 ]}
]}
]
}
